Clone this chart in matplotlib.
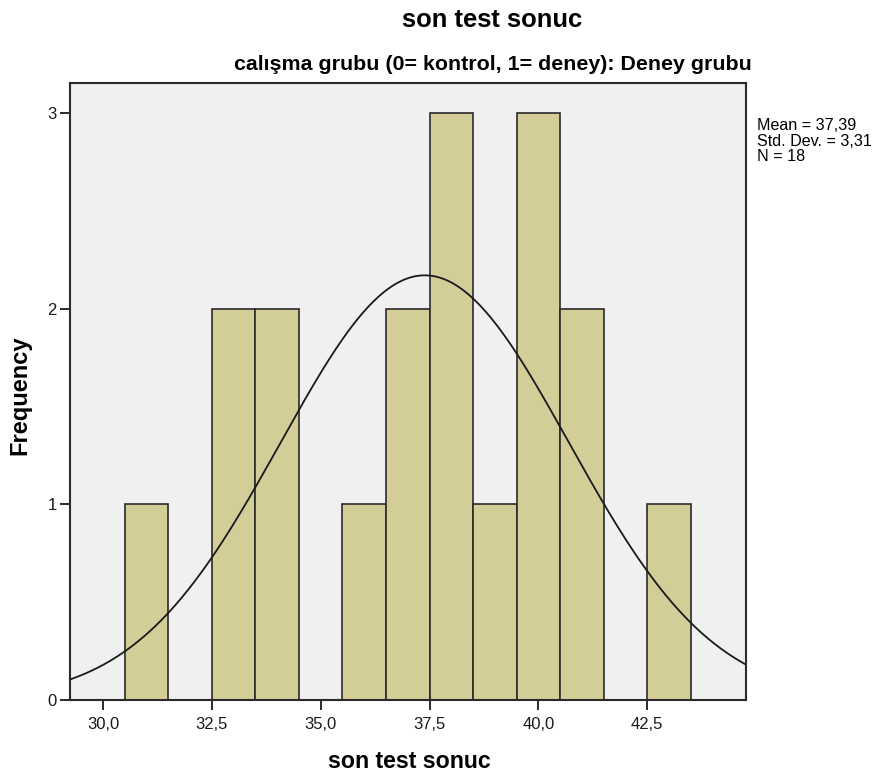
import numpy as np
import matplotlib
matplotlib.use('Agg')
import matplotlib.pyplot as plt

plt.rcParams['font.family'] = ['Liberation Sans', 'DejaVu Sans']

# histogram data (bin left edge, count), bin width 1
bin_left = [30.5, 32.5, 33.5, 35.5, 36.5, 37.5, 38.5, 39.5, 40.5, 42.5]
counts = [1, 2, 2, 1, 2, 3, 1, 3, 2, 1]
bin_width = 1.0

mean = 37.39
sd = 3.31
n = 18

xticks = [30.0, 32.5, 35.0, 37.5, 40.0, 42.5]
xtick_labels = ['30,0', '32,5', '35,0', '37,5', '40,0', '42,5']
yticks = [0, 1, 2, 3]

title = 'son test sonuc'
subtitle = 'calışma grubu (0= kontrol, 1= deney): Deney grubu'
xlabel = 'son test sonuc'
ylabel = 'Frequency'
stats_text = 'Mean = 37,39\nStd. Dev. = 3,31\nN = 18'

fig = plt.figure(figsize=(8.85, 7.76), dpi=100)
ax = fig.add_axes([70 / 885, 1 - 700 / 776, (746 - 70) / 885, (700 - 83) / 776])
ax.set_facecolor('#f0f0f0')

ax.bar(bin_left, counts, width=bin_width, align='edge',
       color='#d3ce97', edgecolor='#2a2a2a', linewidth=1.2, zorder=2)

xmin, xmax = 29.24, 44.77
xs = np.linspace(xmin, xmax, 400)
ys = n * bin_width * np.exp(-0.5 * ((xs - mean) / sd) ** 2) / (sd * np.sqrt(2 * np.pi))
ax.plot(xs, ys, color='#1a1a1a', linewidth=1.3, zorder=3)

ax.set_xlim(xmin, xmax)
ax.set_ylim(0, 3.152)
ax.set_xticks(xticks)
ax.set_xticklabels(xtick_labels)
ax.set_yticks(yticks)
ax.tick_params(axis='both', direction='out', length=7.5, width=1.3, labelsize=12,
               colors='#1a1a1a')
ax.tick_params(axis='x', pad=5)
ax.tick_params(axis='y', pad=2)
for s in ax.spines.values():
    s.set_color('#2a2a2a')
    s.set_linewidth(1.5)

fig.text(492 / 885, 1 - 20 / 776, title, ha='center', va='center',
         fontsize=18.4, fontweight='bold')
fig.text(493 / 885, 1 - 65 / 776, subtitle, ha='center', va='center',
         fontsize=15.4, fontweight='bold')
fig.text(409 / 885, 1 - 762 / 776, xlabel, ha='center', va='center',
         fontsize=16.7, fontweight='bold')
fig.text(20 / 885, 1 - 395 / 776, ylabel, ha='center', va='center',
         rotation=90, fontsize=17, fontweight='bold')
fig.text(757 / 885, 1 - 118 / 776, stats_text, ha='left', va='top',
         fontsize=11.6, linespacing=1.05)

fig.savefig('out.png', dpi=100)
